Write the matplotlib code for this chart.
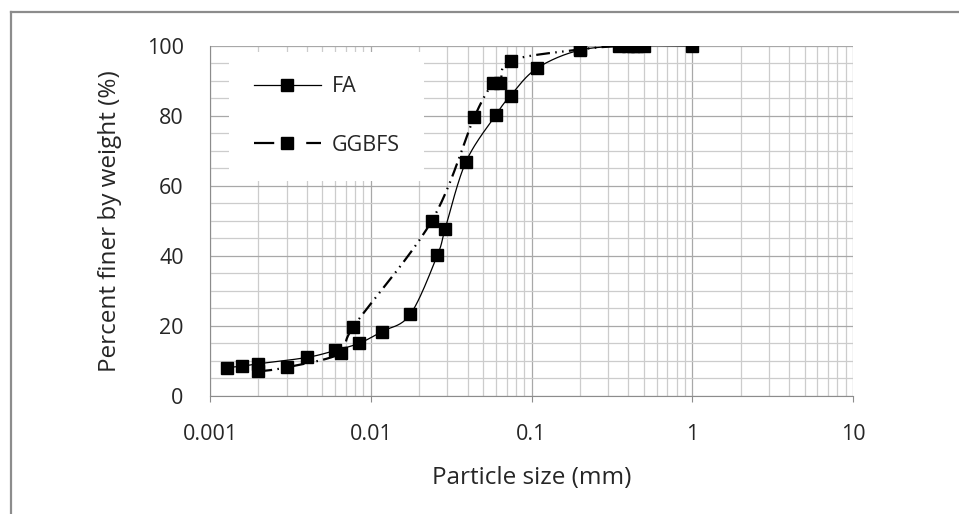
import numpy as np
import matplotlib
matplotlib.use("Agg")
import matplotlib.pyplot as plt
from matplotlib.lines import Line2D
from matplotlib.ticker import FixedLocator, NullFormatter

plt.rcParams['font.family'] = ['Open Sans', 'DejaVu Sans']

# particle size distribution (mm, % finer)
fa_size = [0.00127, 0.00158, 0.002, 0.004, 0.006, 0.0085, 0.0117, 0.0176,
           0.026, 0.029, 0.039, 0.06, 0.074, 0.108, 0.2, 0.425, 1.0]
fa_finer = [8.1, 8.5, 9.2, 11.0, 13.0, 15.1, 18.4, 23.3,
            40.3, 47.7, 66.8, 80.3, 85.8, 93.6, 98.8, 100, 100]

gg_size = [0.002, 0.003, 0.0065, 0.0078, 0.024, 0.044, 0.058, 0.064,
           0.074, 0.2, 0.35, 0.4, 0.45, 0.5]
gg_finer = [7.0, 8.2, 12.2, 19.8, 50.1, 79.6, 89.5, 89.5,
            95.8, 99.0, 100, 100, 100, 100]

x_ticks = [0.001, 0.01, 0.1, 1, 10]
x_labels = ["0.001", "0.01", "0.1", "1", "10"]
y_ticks = [0, 20, 40, 60, 80, 100]

TXT = '#262626'


def smooth(xs, ys, n=24):
    # catmull-rom style smoothing in log-x space, like a spreadsheet "smoothed line"
    u = np.log10(np.asarray(xs, float))
    v = np.asarray(ys, float)
    pu = np.concatenate([[u[0]], u, [u[-1]]])
    pv = np.concatenate([[v[0]], v, [v[-1]]])
    out_u, out_v = [u[0]], [v[0]]
    for i in range(1, len(pu) - 2):
        p0 = np.array([pu[i], pv[i]])
        p3 = np.array([pu[i + 1], pv[i + 1]])
        c1 = p0 + (np.array([pu[i + 1], pv[i + 1]]) - np.array([pu[i - 1], pv[i - 1]])) / 6
        c2 = p3 - (np.array([pu[i + 2], pv[i + 2]]) - np.array([pu[i], pv[i]])) / 6
        t = np.linspace(0, 1, n)[1:, None]
        b = ((1 - t) ** 3 * p0 + 3 * (1 - t) ** 2 * t * c1
             + 3 * (1 - t) * t ** 2 * c2 + t ** 3 * p3)
        out_u.extend(b[:, 0])
        out_v.extend(b[:, 1])
    return 10 ** np.array(out_u), np.array(out_v)


fig = plt.figure(figsize=(9.59, 5.14), dpi=100)
ax = fig.add_axes([0.219, 0.2296, 0.6705, 0.681])

ax.set_xscale('log')
ax.set_xlim(0.001, 10)
ax.set_ylim(0, 100)

# grid
ax.xaxis.set_major_locator(FixedLocator(x_ticks))
minors = [m * d for d in [0.001, 0.01, 0.1, 1] for m in range(2, 10)]
ax.xaxis.set_minor_locator(FixedLocator(minors))
ax.xaxis.set_minor_formatter(NullFormatter())
ax.set_xticklabels(x_labels)
ax.yaxis.set_major_locator(FixedLocator(y_ticks))
ax.yaxis.set_minor_locator(FixedLocator(list(range(5, 100, 5))))
ax.grid(True, which='major', color='#a8a8a8', lw=0.9, zorder=0)
ax.grid(True, which='minor', color='#cccccc', lw=0.9, zorder=0)
ax.set_axisbelow(True)

for s in ['top', 'right']:
    ax.spines[s].set_visible(False)
ax.spines['left'].set_color('#8c8c8c')
ax.spines['bottom'].set_color('#8c8c8c')

ax.tick_params(axis='x', which='major', length=4, color='#8c8c8c', pad=16,
               labelsize=15.5, labelcolor=TXT)
ax.tick_params(axis='x', which='minor', length=0)
ax.tick_params(axis='y', which='both', length=0, pad=19,
               labelsize=15.5, labelcolor=TXT)

# data
sx, sy = smooth(fa_size, fa_finer)
ax.plot(sx, sy, color='black', lw=0.9, zorder=3)
ax.plot(fa_size, fa_finer, ls='none', marker='s', ms=8.5, color='black', zorder=4)

gx, gy = smooth(gg_size, gg_finer)
ax.plot(gx, gy, color='black', lw=1.6, dashes=(6.2, 2.4, 0.7, 2.4, 0.7, 2.4), zorder=3)
ax.plot(gg_size, gg_finer, ls='none', marker='s', ms=8.5, color='black', zorder=4)

ax.set_xlabel('Particle size (mm)', fontsize=17.5, color=TXT, labelpad=15)
ax.set_ylabel('Percent finer by weight (%)', fontsize=17.5, color=TXT, labelpad=18)

handles = [
    Line2D([], [], color='black', lw=0.9, marker='s', ms=8.5),
    Line2D([], [], color='black', lw=1.6, dashes=(9.1, 14.4), marker='s', ms=8.5),
]
leg = ax.legend(handles, ['FA', 'GGBFS'], loc='upper left',
                bbox_to_anchor=(0.03, 0.984), borderaxespad=0,
                fontsize=15.5, handlelength=3.1, handletextpad=0.5,
                borderpad=1.15, labelspacing=1.75, numpoints=1,
                frameon=True, fancybox=False, framealpha=1)
leg.get_frame().set_facecolor('white')
leg.get_frame().set_edgecolor('none')
for t in leg.get_texts():
    t.set_color(TXT)

# outer chart border
fig.add_artist(Line2D([0.0115, 1.0], [0.9767, 0.9767], color='#8c8c8c', lw=1.6))
fig.add_artist(Line2D([0.0115, 0.0115], [0.0, 0.9767], color='#8c8c8c', lw=1.6))

fig.savefig('out.png', dpi=100)
